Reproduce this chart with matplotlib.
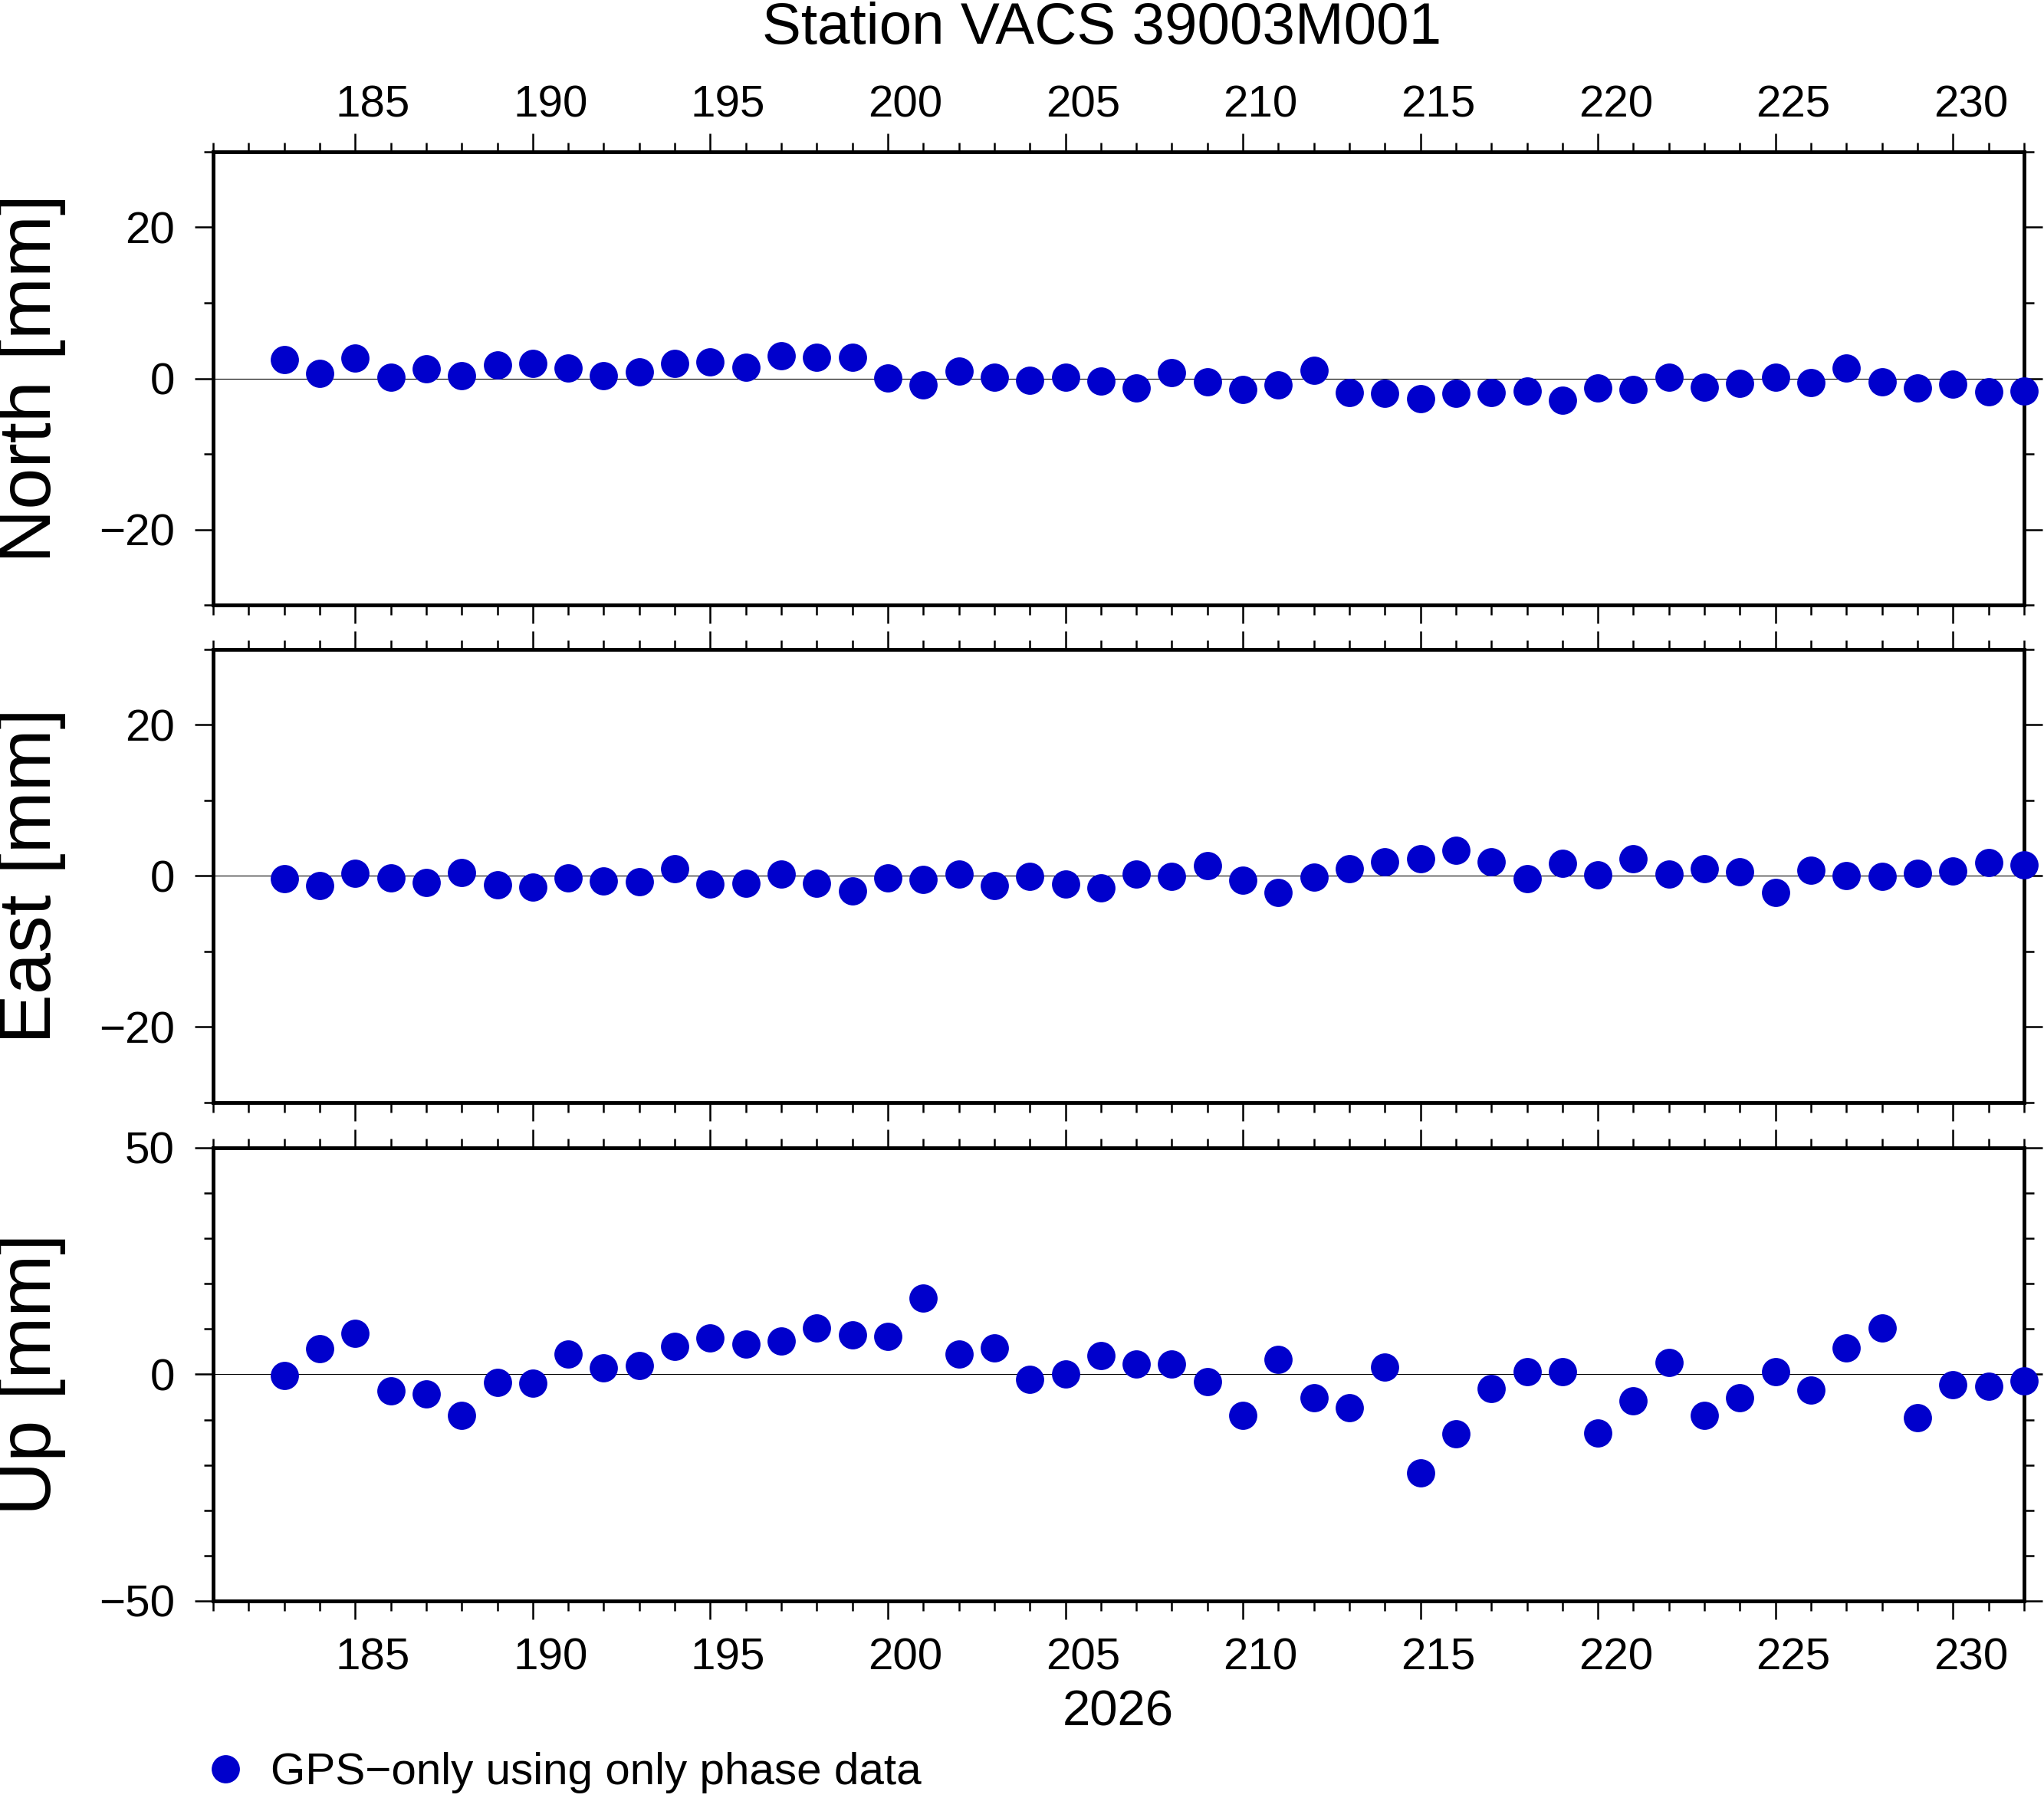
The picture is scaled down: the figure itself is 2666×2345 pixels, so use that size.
import matplotlib
matplotlib.use('Agg')
import matplotlib.pyplot as plt
from matplotlib.ticker import MultipleLocator

plt.rcParams['font.family'] = ['Liberation Sans', 'DejaVu Sans']

# day of year 2026
days = list(range(183, 233))

north = [2.5, 0.7, 2.7, 0.2, 1.3, 0.4, 1.8, 2.0, 1.4, 0.4, 0.9, 2.0, 2.2, 1.5,
         3.0, 2.8, 2.8, 0.1, -0.9, 1.0, 0.2, -0.3, 0.2, -0.4,
         -1.3, 0.8, -0.5, -1.5, -0.9, 1.1, -1.9, -2.0, -2.7, -2.0, -1.9, -1.7,
         -2.9, -1.3, -1.5, 0.2, -1.2, -0.7, 0.2, -0.6, 1.4, -0.5, -1.3, -0.8,
         -1.8, -1.7]
east = [-0.4, -1.3, 0.3, -0.3, -0.9, 0.4, -1.2, -1.5, -0.3, -0.7, -0.8, 0.9,
        -1.1, -1.0, 0.2, -1.0, -2.0, -0.3, -0.5, 0.2, -1.3, -0.1, -1.1, -1.6,
        0.2, -0.1, 1.4, -0.6, -2.2, -0.2, 0.9, 1.9, 2.3, 3.4, 1.9, -0.4, 1.7,
        0.1, 2.3, 0.2, 1.0, 0.5, -2.2, 0.7, 0.0, -0.1, 0.3, 0.6, 1.8, 1.5]
up = [-0.3, 5.6, 9.0, -3.7, -4.4, -9.0, -1.8, -2.0, 4.4, 1.4, 1.9, 6.1, 8.0,
      6.6, 7.3, 10.2, 8.7, 8.3, 16.8, 4.4, 5.8, -1.2, 0.0, 4.1,
      2.2, 2.2, -1.7, -9.0, 3.3, -5.2, -7.4, 1.6, -21.8, -13.2, -3.2, 0.5,
      0.5, -13.0, -5.9, 2.6, -9.1, -5.2, 0.5, -3.4, 5.8, 10.2, -9.5, -2.3,
      -2.7, -1.5]

label_days = list(range(185, 231, 5))
dot_color = '#0000cc'

fig = plt.figure(figsize=(26.66, 23.45), dpi=100)

left, width = 0.1043, 0.8859
panels = [
    ('North [mm]', north, (-30, 30), 20, 10, 0.6635),
    ('East [mm]', east, (-30, 30), 20, 10, 0.3868),
    ('Up [mm]', up, (-50, 50), 50, 10, 0.1096),
]
height = 0.2521

axes = []
for i, (name, vals, ylim, major, minor, bottom) in enumerate(panels):
    ax = fig.add_axes([left, bottom, width, height])
    line, = ax.plot(days, vals, 'o', color=dot_color, ms=26.5, mew=0,
                    clip_on=False, zorder=3)
    ax.axhline(0, color='k', lw=0.8, zorder=1)
    ax.set_xlim(181, 232)
    ax.set_ylim(*ylim)
    ax.xaxis.set_major_locator(MultipleLocator(5))
    ax.xaxis.set_minor_locator(MultipleLocator(1))
    ax.yaxis.set_major_locator(MultipleLocator(major))
    ax.yaxis.set_minor_locator(MultipleLocator(minor))
    ax.tick_params(which='both', direction='out', top=True, right=True,
                   labelbottom=False, labeltop=False, width=1.8,
                   labelsize=42, pad=19)
    ax.tick_params(which='major', length=17)
    ax.tick_params(which='minor', length=9)
    for s in ax.spines.values():
        s.set_linewidth(3.5)
    fig.text(0.0154, bottom + height / 2, name, rotation=90,
             ha='center', va='center', fontsize=70)
    axes.append(ax)

# day labels sit in the middle of each day interval
top_lab = axes[0].secondary_xaxis('top', functions=(lambda x: x - 0.5,
                                                    lambda x: x + 0.5))
top_lab.set_xticks(label_days)
top_lab.tick_params(length=0, labelsize=42, pad=24)
bot_lab = axes[2].secondary_xaxis('bottom', functions=(lambda x: x - 0.5,
                                                       lambda x: x + 0.5))
bot_lab.set_xticks(label_days)
bot_lab.tick_params(length=0, labelsize=42, pad=34)
for sec in (top_lab, bot_lab):
    for s in sec.spines.values():
        s.set_visible(False)

fig.text(0.539, 0.9757, 'Station VACS 39003M001', ha='center',
         va='baseline', fontsize=55)
fig.text(0.547, 0.0405, '2026', ha='center', va='baseline', fontsize=47)

fig.legend(handles=[line], labels=['GPS\u2212only using only phase data'],
           loc='center left', bbox_to_anchor=(0.0994, 0.0141),
           frameon=False, fontsize=42, handlelength=1, handletextpad=0.5,
           borderpad=0, borderaxespad=0, numpoints=1)

fig.savefig('out.png', dpi=100)
